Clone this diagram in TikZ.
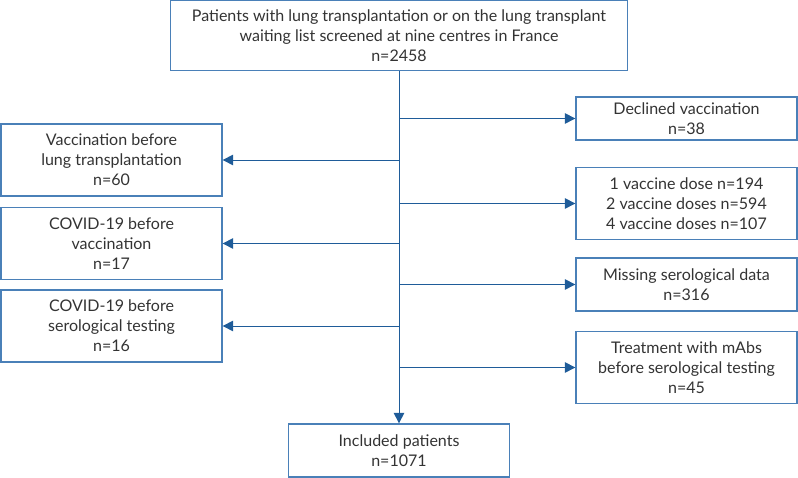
\documentclass[tikz,border=0pt]{standalone}
\usepackage{fontspec}
\setmainfont{Lato}
\usetikzlibrary{arrows.meta, positioning}

\definecolor{boxblue}{HTML}{4A80B8}
\definecolor{lineblue}{HTML}{1F5C99}
\definecolor{textgrey}{HTML}{333333}

\begin{document}
\begin{tikzpicture}[
        x=0.025cm, y=-0.025cm,
        box/.style={draw=boxblue, line width=0.9pt, rectangle, align=center, text=textgrey,
            minimum width=221*0.025cm, inner sep=2pt,
            font=\fontsize{11.4}{14.3}\selectfont},
        arrow/.style={-{Triangle[length=7.5pt, width=7.5pt]}, lineblue, line width=0.7pt}
    ]
        \useasboundingbox (0,0) rectangle (798,478);
        % screening
        \node[box, minimum width=457*0.025cm, minimum height=70*0.025cm] (screened) at (399,35.5)
            {Patients with lung transplantation or on the lung transplant\\waiting list screened at nine centres in France\\n=2458};
        % exclusions, right
        \node[box, minimum height=43*0.025cm] (declined) at (686.5,118.5) {Declined vaccination\\n=38};
        \node[box, minimum height=72*0.025cm] (doses) at (686.5,203.5) {1 vaccine dose n=194\\2 vaccine doses n=594\\4 vaccine doses n=107};
        \node[box, minimum height=53*0.025cm] (missing) at (686.5,284.5) {Missing serological data\\n=316};
        \node[box, minimum height=72*0.025cm] (mabs) at (686.5,367.5) {Treatment with mAbs\\before serological testing\\n=45};
        % exclusions, left
        \node[box, minimum height=72*0.025cm] (vaccbefore) at (111.5,160) {Vaccination before\\lung transplantation\\n=60};
        \node[box, minimum height=72*0.025cm] (covidvacc) at (111.5,243.5) {COVID-19 before\\vaccination\\n=17};
        \node[box, minimum height=72*0.025cm] (covidsero) at (111.5,326) {COVID-19 before\\serological testing\\n=16};
        % result
        \node[box, minimum height=53*0.025cm] (included) at (399,450.5) {Included patients\\n=1071};

        \draw[arrow] (screened.south) -- (included.north);
        \foreach \n in {declined, doses, missing, mabs}
            \draw[arrow] (screened.south |- \n.west) -- (\n.west);
        \foreach \n in {vaccbefore, covidvacc, covidsero}
            \draw[arrow] (screened.south |- \n.east) -- (\n.east);
    \end{tikzpicture}
\end{document}
